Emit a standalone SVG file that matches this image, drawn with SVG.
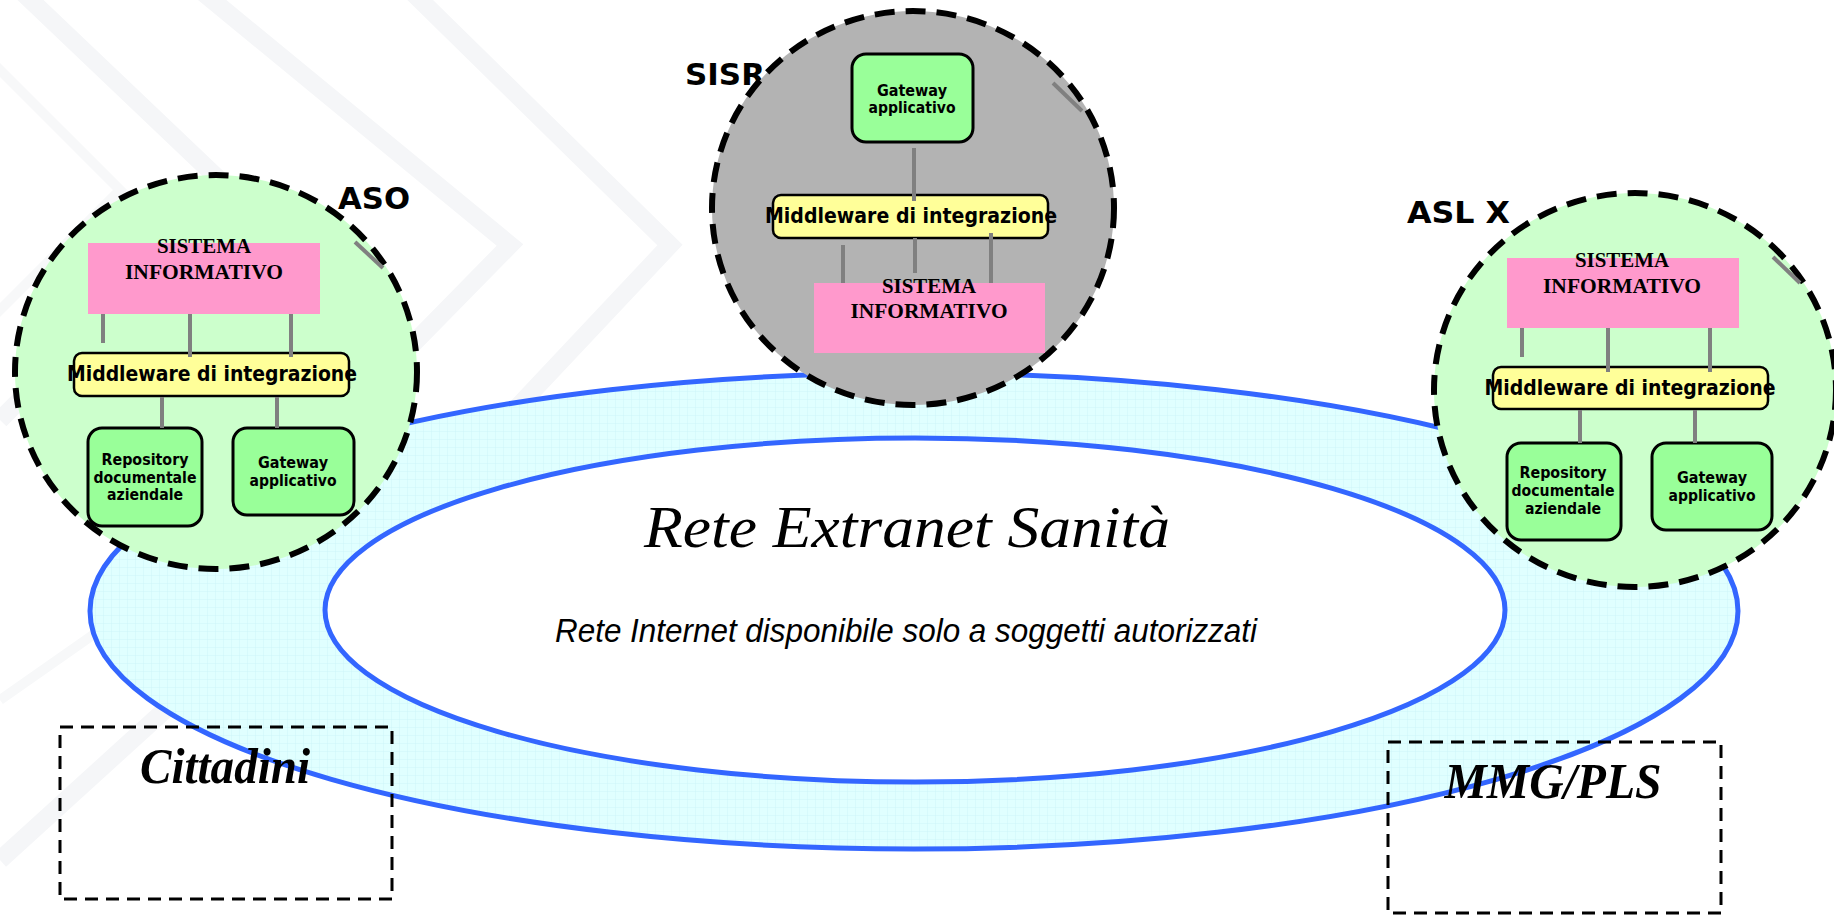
<svg xmlns="http://www.w3.org/2000/svg" width="1834" height="915" viewBox="0 0 1834 915">
<defs>
<pattern id="grid" width="8" height="8" patternUnits="userSpaceOnUse">
<rect width="8" height="8" fill="#E0FFFF"/>
<path d="M8 0V8M0 8H8" stroke="#C9F3F7" stroke-width="0.8" fill="none"/>
</pattern>
<style>
.wm{fill:none;stroke:#F5F6F8;stroke-width:18;stroke-linejoin:miter}
.wm2{fill:none;stroke:#F7F8F9;stroke-width:10}
.ring{stroke:#3366FF;stroke-width:5}
.zone{stroke:#000;stroke-width:6;stroke-dasharray:20 11}
.lbl{font-family:"DejaVu Sans",sans-serif;font-weight:bold;font-size:30px;fill:#000}
.si{fill:#FF99CC}
.sit{font-family:"Liberation Serif",serif;font-weight:bold;font-size:22px;fill:#000;text-anchor:middle}
.mw{fill:#FFFF99;stroke:#000;stroke-width:2.5}
.mwt{font-family:"DejaVu Sans",sans-serif;font-weight:bold;font-size:21px;fill:#000;text-anchor:middle}
.gb{fill:#99FF99;stroke:#000;stroke-width:3}
.gt{font-family:"DejaVu Sans",sans-serif;font-weight:bold;font-size:16px;fill:#000;text-anchor:middle}
.cn{stroke:#808080;stroke-width:4;fill:none}
.box{fill:none;stroke:#000;stroke-width:3;stroke-dasharray:13 8}
.bt{font-family:"Liberation Serif",serif;font-weight:bold;font-style:italic;font-size:50px;fill:#000;text-anchor:middle}
</style>
</defs>
<rect width="1834" height="915" fill="#FFFFFF"/>
<g id="watermark">
<polyline class="wm" points="20,-10 230,190 0,420"/>
<polyline class="wm" points="200,-10 510,245 250,510"/>
<polyline class="wm" points="410,-10 670,245 430,500"/>
<polyline class="wm2" points="-10,60 120,190 -10,320"/>
<line class="wm" x1="0" y1="860" x2="330" y2="560"/>
<line class="wm2" x1="0" y1="700" x2="200" y2="560"/>
</g>
<g id="rete">
<ellipse class="ring" cx="914" cy="611" rx="824" ry="238" fill="url(#grid)"/>
<ellipse class="ring" cx="915" cy="610" rx="590" ry="172" fill="#FFFFFF"/>
<text x="907" y="547" font-family="'Liberation Serif',serif" font-style="italic" font-size="60" text-anchor="middle" textLength="526" lengthAdjust="spacingAndGlyphs">Rete Extranet Sanità</text>
<text x="906" y="642" font-family="'Liberation Sans',sans-serif" font-style="italic" font-size="33" text-anchor="middle" textLength="702" lengthAdjust="spacingAndGlyphs">Rete Internet disponibile solo a soggetti autorizzati</text>
</g>
<g id="labels">
<text class="lbl" x="338" y="209" textLength="72" lengthAdjust="spacingAndGlyphs">ASO</text>
<text class="lbl" x="685" y="85" textLength="80" lengthAdjust="spacingAndGlyphs">SISR</text>
<text class="lbl" x="1407" y="223" textLength="103" lengthAdjust="spacingAndGlyphs">ASL X</text>
</g>
<g id="aso">
<ellipse class="zone" cx="216" cy="372" rx="201" ry="197" fill="#CCFFCC"/>
<g id="aso-si"><rect class="si" x="88" y="243" width="232" height="71"/>
<text class="sit" x="204" y="253" textLength="94" lengthAdjust="spacingAndGlyphs">SISTEMA</text>
<text class="sit" x="204" y="279" textLength="158" lengthAdjust="spacingAndGlyphs">INFORMATIVO</text></g>
<g id="aso-mw"><rect class="mw" x="74" y="353" width="275" height="43" rx="8"/>
<text class="mwt" x="212" y="381" textLength="290" lengthAdjust="spacingAndGlyphs">Middleware di integrazione</text></g>
<g id="aso-repo"><rect class="gb" x="88" y="428" width="114" height="98" rx="14"/>
<text class="gt" x="145" y="465" textLength="87" lengthAdjust="spacingAndGlyphs">Repository</text>
<text class="gt" x="145" y="483" textLength="103" lengthAdjust="spacingAndGlyphs">documentale</text>
<text class="gt" x="145" y="500" textLength="76" lengthAdjust="spacingAndGlyphs">aziendale</text></g>
<g id="aso-gw"><rect class="gb" x="233" y="428" width="121" height="87" rx="14"/>
<text class="gt" x="293" y="468" textLength="70" lengthAdjust="spacingAndGlyphs">Gateway</text>
<text class="gt" x="293" y="486" textLength="87" lengthAdjust="spacingAndGlyphs">applicativo</text></g>
</g>
<g id="sisr">
<ellipse class="zone" cx="913" cy="208" rx="201" ry="197" fill="#B3B3B3"/>
<g id="sisr-gw"><rect class="gb" x="852" y="54" width="121" height="88" rx="14"/>
<text class="gt" x="912" y="96" textLength="70" lengthAdjust="spacingAndGlyphs">Gateway</text>
<text class="gt" x="912" y="113" textLength="87" lengthAdjust="spacingAndGlyphs">applicativo</text></g>
<g id="sisr-mw"><rect class="mw" x="773" y="195" width="275" height="43" rx="8"/>
<text class="mwt" x="911" y="223" textLength="292" lengthAdjust="spacingAndGlyphs">Middleware di integrazione</text></g>
<g id="sisr-si"><rect class="si" x="814" y="283" width="231" height="70"/>
<text class="sit" x="929" y="293" textLength="94" lengthAdjust="spacingAndGlyphs">SISTEMA</text>
<text class="sit" x="929" y="318" textLength="157" lengthAdjust="spacingAndGlyphs">INFORMATIVO</text></g>
</g>
<g id="aslx">
<ellipse class="zone" cx="1635" cy="390" rx="201" ry="197" fill="#CCFFCC"/>
<g id="asl-si"><rect class="si" x="1507" y="258" width="232" height="70"/>
<text class="sit" x="1622" y="267" textLength="94" lengthAdjust="spacingAndGlyphs">SISTEMA</text>
<text class="sit" x="1622" y="293" textLength="158" lengthAdjust="spacingAndGlyphs">INFORMATIVO</text></g>
<g id="asl-mw"><rect class="mw" x="1493" y="367" width="275" height="42" rx="8"/>
<text class="mwt" x="1630" y="395" textLength="291" lengthAdjust="spacingAndGlyphs">Middleware di integrazione</text></g>
<g id="asl-repo"><rect class="gb" x="1507" y="443" width="114" height="97" rx="14"/>
<text class="gt" x="1563" y="478" textLength="87" lengthAdjust="spacingAndGlyphs">Repository</text>
<text class="gt" x="1563" y="496" textLength="103" lengthAdjust="spacingAndGlyphs">documentale</text>
<text class="gt" x="1563" y="514" textLength="76" lengthAdjust="spacingAndGlyphs">aziendale</text></g>
<g id="asl-gw"><rect class="gb" x="1652" y="443" width="120" height="87" rx="14"/>
<text class="gt" x="1712" y="483" textLength="70" lengthAdjust="spacingAndGlyphs">Gateway</text>
<text class="gt" x="1712" y="501" textLength="87" lengthAdjust="spacingAndGlyphs">applicativo</text></g>
</g>
<g id="connectors">
<line class="cn" x1="103" y1="314" x2="103" y2="343"/>
<line class="cn" x1="190" y1="314" x2="190" y2="357"/>
<line class="cn" x1="291" y1="314" x2="291" y2="357"/>
<line class="cn" x1="162" y1="397" x2="162" y2="428"/>
<line class="cn" x1="277" y1="397" x2="277" y2="428"/>
<line class="cn" x1="355" y1="242" x2="383" y2="268"/>
<line class="cn" x1="914" y1="148" x2="914" y2="201"/>
<line class="cn" x1="843" y1="245" x2="843" y2="283"/>
<line class="cn" x1="915" y1="238" x2="915" y2="273"/>
<line class="cn" x1="991" y1="233" x2="991" y2="283"/>
<line class="cn" x1="1053" y1="83" x2="1082" y2="111"/>
<line class="cn" x1="1522" y1="328" x2="1522" y2="357"/>
<line class="cn" x1="1608" y1="328" x2="1608" y2="372"/>
<line class="cn" x1="1710" y1="328" x2="1710" y2="372"/>
<line class="cn" x1="1580" y1="410" x2="1580" y2="443"/>
<line class="cn" x1="1695" y1="410" x2="1695" y2="443"/>
<line class="cn" x1="1773" y1="257" x2="1800" y2="283"/>
</g>
<g id="cittadini">
<rect class="box" x="60" y="727" width="332" height="172"/>
<text class="bt" x="225" y="783" textLength="170" lengthAdjust="spacingAndGlyphs">Cittadini</text>
</g>
<g id="mmg">
<rect class="box" x="1388" y="742" width="333" height="171"/>
<text class="bt" x="1553" y="798" textLength="217" lengthAdjust="spacingAndGlyphs">MMG/PLS</text>
</g>
</svg>
